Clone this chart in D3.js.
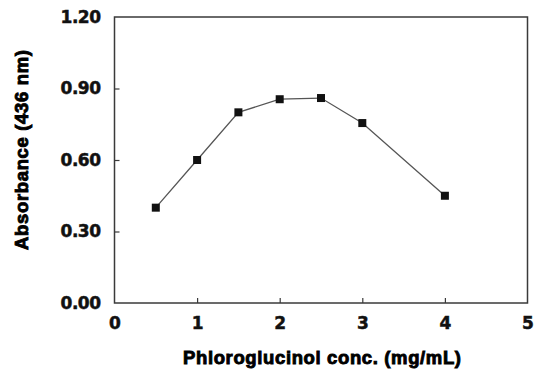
<!DOCTYPE html>
<html>
<head>
<meta charset="utf-8">
<script src="https://cdn.jsdelivr.net/npm/d3@7"></script>
<style>
  body { margin: 0; background: #fff; }
  svg { display: block; }
</style>
</head>
<body>
<svg id="chart" width="534" height="377"></svg>
<script>
// data
const conc = [0.5, 1, 1.5, 2, 2.5, 3, 4];
const absorbance = [0.40, 0.60, 0.80, 0.855, 0.86, 0.755, 0.45];
const xTicks = [0, 1, 2, 3, 4, 5];
const yTicks = [0, 0.3, 0.6, 0.9, 1.2];

const width = 534;
const height = 377;
const margin = { top: 17, right: 6.5, bottom: 74, left: 114.5 };

const svg = d3.select('#chart');

const x = d3.scaleLinear()
  .domain([0, 5])
  .range([margin.left, width - margin.right]);

const y = d3.scaleLinear()
  .domain([0, 1.2])
  .range([height - margin.bottom, margin.top]);

const axisColor = '#3a3a3a';
const labelFont = 'DejaVu Sans, sans-serif';

// frame
svg.append('rect')
  .attr('x', x(0))
  .attr('y', y(1.2))
  .attr('width', x(5) - x(0))
  .attr('height', y(0) - y(1.2))
  .attr('fill', 'none')
  .attr('stroke', axisColor)
  .attr('stroke-width', 1.5);

// x axis, ticks pointing inward
const xAxis = svg.append('g')
  .attr('transform', `translate(0,${y(0)})`)
  .call(d3.axisBottom(x).tickValues(xTicks).tickSizeInner(-5).tickSizeOuter(0).tickPadding(13)
    .tickFormat(d3.format('d')));
xAxis.select('.domain').remove();
xAxis.selectAll('.tick line').attr('stroke', axisColor).attr('stroke-width', 1.2)
  .filter((d) => d === 0 || d === 5).remove();
xAxis.selectAll('.tick text')
  .attr('font-family', labelFont)
  .attr('font-weight', 'bold')
  .attr('font-size', 17)
  .attr('fill', '#111')
  .attr('stroke', '#111')
  .attr('stroke-width', 0.5)
  .attr('dy', '0.75em');

// y axis, ticks pointing inward
const yAxis = svg.append('g')
  .attr('transform', `translate(${x(0)},0)`)
  .call(d3.axisLeft(y).tickValues(yTicks).tickSizeInner(-5).tickSizeOuter(0).tickPadding(14)
    .tickFormat(d3.format('.2f')));
yAxis.select('.domain').remove();
yAxis.selectAll('.tick line').attr('stroke', axisColor).attr('stroke-width', 1.2)
  .filter((d) => d === 0 || d === 1.2).remove();
yAxis.selectAll('.tick text')
  .attr('font-family', labelFont)
  .attr('font-weight', 'bold')
  .attr('font-size', 17)
  .attr('fill', '#111')
  .attr('stroke', '#111')
  .attr('stroke-width', 0.5)
  .attr('letter-spacing', -0.5);

// axis titles
svg.append('text')
  .attr('x', 322)
  .attr('y', 364)
  .attr('text-anchor', 'middle')
  .attr('font-family', 'Liberation Sans, Arial, sans-serif')
  .attr('font-weight', 'bold')
  .attr('font-size', 18.5)
  .attr('fill', '#000')
  .attr('stroke', '#000')
  .attr('stroke-width', 0.9)
  .attr('textLength', 278)
  .text('Phloroglucinol conc. (mg/mL)');

svg.append('text')
  .attr('transform', 'translate(28,150) rotate(-90)')
  .attr('text-anchor', 'middle')
  .attr('font-family', 'Liberation Sans, Arial, sans-serif')
  .attr('font-weight', 'bold')
  .attr('font-size', 18.5)
  .attr('fill', '#000')
  .attr('stroke', '#000')
  .attr('stroke-width', 0.9)
  .attr('textLength', 200)
  .text('Absorbance (436 nm)');

// series
const points = conc.map((c, i) => ({ c, a: absorbance[i] }));

const line = d3.line()
  .x((d) => x(d.c))
  .y((d) => y(d.a));

svg.append('path')
  .datum(points)
  .attr('fill', 'none')
  .attr('stroke', '#555')
  .attr('stroke-width', 1.3)
  .attr('d', line);

svg.selectAll('rect.marker')
  .data(points)
  .join('rect')
  .attr('class', 'marker')
  .attr('x', (d) => x(d.c) - 4)
  .attr('y', (d) => y(d.a) - 4)
  .attr('width', 8)
  .attr('height', 8)
  .attr('fill', '#111');
</script>
</body>
</html>
